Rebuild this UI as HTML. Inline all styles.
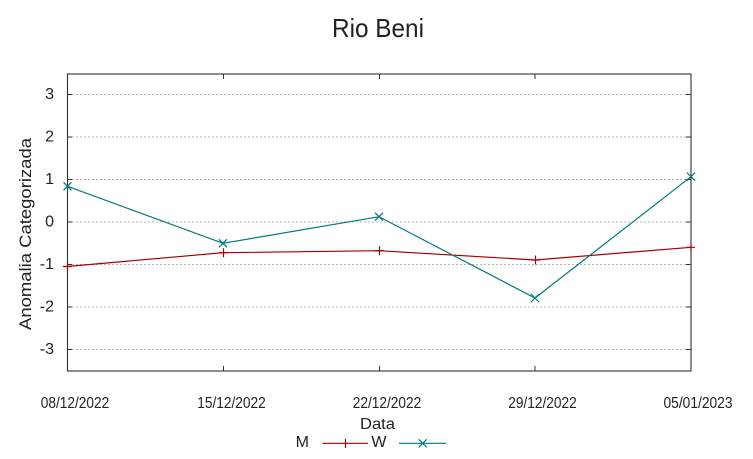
<!DOCTYPE html>
<html><head><meta charset="utf-8"><style>
html,body{margin:0;padding:0;background:#fff;}
svg{display:block;}
text{font-family:"Liberation Sans",Arial,sans-serif;fill:#222;}
</style></head><body>
<svg width="753" height="459" viewBox="0 0 753 459" xmlns="http://www.w3.org/2000/svg">
<rect width="753" height="459" fill="#fff"/>
<!-- title -->
<text x="378" y="37" font-size="26" text-anchor="middle" textLength="92" lengthAdjust="spacingAndGlyphs">Rio Beni</text>
<!-- gridlines -->
<g stroke="#b4b4b4" stroke-width="1" stroke-dasharray="2,2">
<line x1="72" y1="94.5" x2="686" y2="94.5"/>
<line x1="72" y1="137" x2="686" y2="137"/>
<line x1="72" y1="179.5" x2="686" y2="179.5"/>
<line x1="72" y1="222" x2="686" y2="222"/>
<line x1="72" y1="264.5" x2="686" y2="264.5"/>
<line x1="72" y1="307" x2="686" y2="307"/>
<line x1="72" y1="349.5" x2="686" y2="349.5"/>
</g>
<!-- ticks -->
<g stroke="#333" stroke-width="1">
<line x1="67" y1="94.5" x2="72" y2="94.5"/><line x1="686" y1="94.5" x2="691" y2="94.5"/>
<line x1="67" y1="137" x2="72" y2="137"/><line x1="686" y1="137" x2="691" y2="137"/>
<line x1="67" y1="179.5" x2="72" y2="179.5"/><line x1="686" y1="179.5" x2="691" y2="179.5"/>
<line x1="67" y1="222" x2="72" y2="222"/><line x1="686" y1="222" x2="691" y2="222"/>
<line x1="67" y1="264.5" x2="72" y2="264.5"/><line x1="686" y1="264.5" x2="691" y2="264.5"/>
<line x1="67" y1="307" x2="72" y2="307"/><line x1="686" y1="307" x2="691" y2="307"/>
<line x1="67" y1="349.5" x2="72" y2="349.5"/><line x1="686" y1="349.5" x2="691" y2="349.5"/>
<line x1="223.5" y1="74" x2="223.5" y2="79"/><line x1="223.5" y1="366" x2="223.5" y2="371"/>
<line x1="379.5" y1="74" x2="379.5" y2="79"/><line x1="379.5" y1="366" x2="379.5" y2="371"/>
<line x1="535" y1="74" x2="535" y2="79"/><line x1="535" y1="366" x2="535" y2="371"/>
</g>
<!-- border -->
<rect x="67.5" y="74" width="623.5" height="297" fill="none" stroke="#333" stroke-width="1.1"/>
<!-- y tick labels -->
<g font-size="16" text-anchor="end">
<text x="54" y="99">3</text>
<text x="54" y="141.5">2</text>
<text x="54" y="184">1</text>
<text x="54" y="226.5">0</text>
<text x="54" y="269">-1</text>
<text x="54" y="311.5">-2</text>
<text x="54" y="354">-3</text>
</g>
<!-- y label -->
<text transform="translate(31,234) rotate(-90)" font-size="17" text-anchor="middle" textLength="192" lengthAdjust="spacingAndGlyphs">Anomalia Categorizada</text>
<!-- x tick labels -->
<g font-size="16" text-anchor="middle">
<text x="75" y="408" textLength="68.5" lengthAdjust="spacingAndGlyphs">08/12/2022</text>
<text x="231.5" y="408" textLength="68.5" lengthAdjust="spacingAndGlyphs">15/12/2022</text>
<text x="387" y="408" textLength="68.5" lengthAdjust="spacingAndGlyphs">22/12/2022</text>
<text x="542.5" y="408" textLength="68.5" lengthAdjust="spacingAndGlyphs">29/12/2022</text>
<text x="698" y="408" textLength="69" lengthAdjust="spacingAndGlyphs">05/01/2023</text>
</g>
<!-- x label -->
<text x="377.5" y="429" font-size="16" text-anchor="middle" textLength="35" lengthAdjust="spacingAndGlyphs">Data</text>
<!-- series M -->
<polyline fill="none" stroke="#a80000" stroke-width="1.2" points="67,266.5 223,252.7 379,250.7 535,260 691,247.3"/>
<g stroke="#a80000" stroke-width="1.2">
<path d="M63,266.5h9M67.5,262v9"/>
<path d="M219,252.7h9M223.5,248.2v9"/>
<path d="M375,250.7h9M379.5,246.2v9"/>
<path d="M531,260h9M535.5,255.5v9"/>
<path d="M687,247.3h8M691,242.8v9"/>
</g>
<!-- series W -->
<polyline fill="none" stroke="#007a7a" stroke-width="1.2" points="67.5,186.3 223,243.3 379,216.7 535,298 691,176.7"/>
<g stroke="#007a7a" stroke-width="1.2">
<path d="M63.5,182.3l8,8M71.5,182.3l-8,8"/>
<path d="M219,239.3l8,8M227,239.3l-8,8"/>
<path d="M375,212.7l8,8M383,212.7l-8,8"/>
<path d="M531,294l8,8M539,294l-8,8"/>
<path d="M687,172.7l8,8M695,172.7l-8,8"/>
</g>
<!-- legend -->
<text x="309" y="447" font-size="16" text-anchor="end">M</text>
<line x1="322.5" y1="443.3" x2="368" y2="443.3" stroke="#a80000" stroke-width="1.2"/>
<line x1="345.5" y1="439" x2="345.5" y2="448" stroke="#a80000" stroke-width="1.2"/>
<text x="386.5" y="447" font-size="16" text-anchor="end">W</text>
<line x1="399" y1="443.3" x2="446" y2="443.3" stroke="#007a7a" stroke-width="1.2"/>
<path d="M418.7,439.3l8,8M426.7,439.3l-8,8" stroke="#007a7a" stroke-width="1.2"/>
</svg>
</body></html>
